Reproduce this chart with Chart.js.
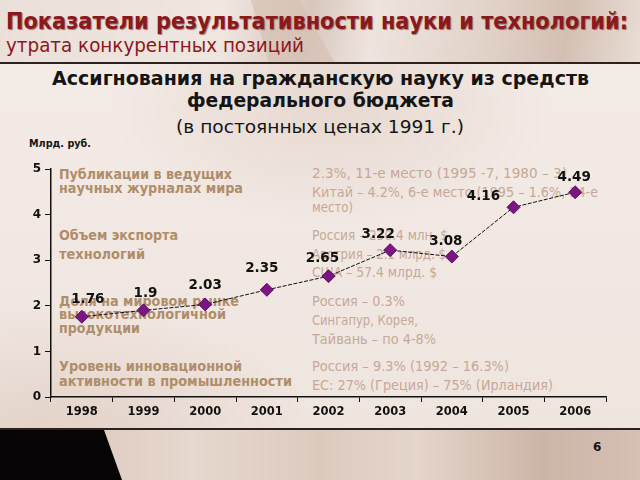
<!DOCTYPE html>
<html><head><meta charset="utf-8">
<script src="https://cdn.jsdelivr.net/npm/chart.js@4.4.1/dist/chart.umd.min.js"></script>
<style>
html,body{margin:0;padding:0;background:#fff;}
#slide{position:relative;width:640px;height:480px;overflow:hidden;background:#efe5df;font-family:"DejaVu Sans",sans-serif;}
.bg{position:absolute;}
.t{position:absolute;white-space:nowrap;transform-origin:0 50%;}
.lb{font-weight:bold;font-size:13.5px;color:#b08d6a;}
.rt{font-size:13.5px;color:#c6a897;}
canvas{position:absolute;left:0;top:0;}
</style></head>
<body>
<div id="slide">
  <div class="bg" style="left:0;top:0;width:640px;height:63px;background:linear-gradient(100deg,#ebe0d9 0%,#efe6e0 35%,#d8c6bb 48%,#eee4de 58%,#e2d3c9 75%,#d4c0b3 88%,#e9ddd5 100%);"></div>
  <div class="bg" style="left:215px;top:0;width:120px;height:63px;background:#d6c1b4;clip-path:polygon(30% 0,70% 0,100% 100%,45% 100%);opacity:.7"></div>
  <div class="bg" style="left:0;top:62px;width:640px;height:2px;background:#2b2220;"></div>
  <div class="bg" style="left:0;top:64px;width:640px;height:364px;background:radial-gradient(ellipse 260px 140px at 60px 380px,#e2d1c6 0%,rgba(226,209,198,0) 100%),radial-gradient(ellipse 220px 120px at 330px 40px,#e6d8cf 0%,rgba(230,216,207,0) 100%),linear-gradient(#f3ebe6,#efe5df);"></div>
  <div class="bg" style="left:0;top:428px;width:640px;height:2px;background:#2b2220;"></div>
  <div class="bg" style="left:0;top:430px;width:640px;height:50px;background:linear-gradient(90deg,#d6c1b4 0%,#e6d8ce 30%,#dccabe 50%,#e4d5cb 65%,#cdb5a7 85%,#d5c0b3 100%);"></div>
  <div class="bg" style="left:0;top:430px;width:125px;height:50px;background:#060404;clip-path:polygon(0 0,104px 0,122px 100%,0 100%);"></div>

  <div class="t" data-x="6" data-y="21" data-w="622" style="font-size:23px;line-height:28px;font-weight:bold;color:#8b181c;text-shadow:1px 1px 1px rgba(40,0,0,.45);">Показатели результативности науки и технологий:</div>
  <div class="t" data-x="6" data-y="45" data-w="298" style="font-size:20px;line-height:24px;color:#8b181c;">утрата конкурентных позиций</div>

  <div class="t" data-cx="320" data-y="79" data-w="537" style="font-size:19.5px;line-height:24px;font-weight:bold;color:#151515;">Ассигнования на гражданскую науку из средств</div>
  <div class="t" data-cx="320" data-y="101" data-w="267" style="font-size:19.5px;line-height:24px;font-weight:bold;color:#151515;">федерального бюджета</div>
  <div class="t" data-cx="320" data-y="127" data-w="288" style="font-size:18.5px;line-height:22px;color:#151515;">(в постоянных ценах 1991 г.)</div>
  <div class="t" data-x="29" data-y="144" data-w="62" style="font-size:11px;line-height:14px;font-weight:bold;color:#151515;">Млрд. руб.</div>

  <div class="t lb" data-x="59" data-y="174" data-w="173">Публикации в ведущих</div>
  <div class="t lb" data-x="59" data-y="188" data-w="184">научных журналах мира</div>
  <div class="t lb" data-x="59" data-y="235" data-w="119">Объем экспорта</div>
  <div class="t lb" data-x="59" data-y="254" data-w="86">технологий</div>
  <div class="t lb" data-x="59" data-y="301" data-w="180">Доля на мировом рынке</div>
  <div class="t lb" data-x="59" data-y="314" data-w="167">высокотехнологичной</div>
  <div class="t lb" data-x="59" data-y="328" data-w="81">продукции</div>
  <div class="t lb" data-x="59" data-y="366" data-w="183">Уровень инновационной</div>
  <div class="t lb" data-x="59" data-y="381" data-w="233">активности в промышленности</div>

  <div class="t rt" data-x="312" data-y="173" data-w="255">2.3%, 11-е место (1995 -7, 1980 – 3)</div>
  <div class="t rt" data-x="312" data-y="192" data-w="286">Китай – 4.2%, 6-е место (1995 – 1.6%, 14-е</div>
  <div class="t rt" data-x="312" data-y="207" data-w="41">место)</div>
  <div class="t rt" data-x="312" data-y="235" data-w="136">Россия – 230.4 млн. $</div>
  <div class="t rt" data-x="312" data-y="254" data-w="134">Австрия – 2.1 млрд. $</div>
  <div class="t rt" data-x="312" data-y="272" data-w="125">США – 57.4 млрд. $</div>
  <div class="t rt" data-x="312" data-y="301" data-w="93">Россия – 0.3%</div>
  <div class="t rt" data-x="312" data-y="320" data-w="106">Сингапур, Корея,</div>
  <div class="t rt" data-x="312" data-y="339" data-w="124">Тайвань – по 4-8%</div>
  <div class="t rt" data-x="312" data-y="366" data-w="197">Россия – 9.3% (1992 – 16.3%)</div>
  <div class="t rt" data-x="312" data-y="385" data-w="241">ЕС: 27% (Греция) – 75% (Ирландия)</div>

  <div class="t" data-x="593" data-y="447" style="font-size:12px;line-height:14px;font-weight:bold;color:#151515;">6</div>

  <canvas id="c" width="640" height="480"></canvas>
</div>
<script>
// ---- data ----
const years = ['1998','1999','2000','2001','2002','2003','2004','2005','2006'];
const funding = [1.76, 1.9, 2.03, 2.35, 2.65, 3.22, 3.08, 4.16, 4.49];
const valueLabels = ['1.76','1.9','2.03','2.35','2.65','3.22','3.08','4.16','4.49'];
const yTicks = [0, 1, 2, 3, 4, 5];

// label nudges (style only)
const labelDx = [6, 2, 0, -5, -6, -12, -6, -30, -1];
const labelDy = [-17, -17, -19, -21, -18, -16, -15, -11, -15];

// ---- fit slide text ----
document.querySelectorAll('.t').forEach(el => {
  const r = el.getBoundingClientRect();
  let w = r.width;
  if (el.dataset.w) { const tw = +el.dataset.w; el.style.transform = 'scaleX(' + (tw / w) + ')'; w = tw; }
  const x = el.dataset.cx ? (+el.dataset.cx - w / 2) : +el.dataset.x;
  el.style.left = x + 'px';
  el.style.top = (+el.dataset.y - r.height / 2) + 'px';
});

const labelPlugin = {
  id: 'valueLabels',
  afterDatasetsDraw(chart) {
    const ctx = chart.ctx;
    const meta = chart.getDatasetMeta(0);
    ctx.save();
    ctx.font = 'bold 13.5px "DejaVu Sans", sans-serif';
    ctx.fillStyle = '#111';
    ctx.textAlign = 'center';
    ctx.textBaseline = 'middle';
    meta.data.forEach((pt, i) => {
      ctx.fillText(valueLabels[i], pt.x + labelDx[i], pt.y + labelDy[i]);
    });
    ctx.restore();
  }
};

new Chart(document.getElementById('c'), {
  type: 'line',
  data: {
    labels: years,
    datasets: [{
      data: funding,
      borderColor: '#111',
      borderWidth: 1,
      borderDash: [4, 1.5],
      tension: 0,
      pointStyle: 'rectRot',
      pointRadius: 6.5,
      pointBackgroundColor: '#7b1582',
      pointBorderColor: '#5c0c63',
      pointBorderWidth: 1
    }]
  },
  options: {
    responsive: false,
    animation: false,
    events: [],
    layout: { padding: { top: 169, right: 34, bottom: 63, left: 0 } },
    plugins: { legend: { display: false }, tooltip: { enabled: false }, title: { display: false } },
    scales: {
      x: {
        offset: true,
        afterFit(s) { s.height = 20; },
        grid: { display: true, drawOnChartArea: false, drawTicks: true, tickLength: 5, color: '#111', lineWidth: 1, offset: true },
        border: { display: true, color: '#111', width: 1.5 },
        ticks: { color: '#111', font: { family: 'DejaVu Sans', size: 11.5, weight: 'bold' }, padding: 3, maxRotation: 0 }
      },
      y: {
        min: 0, max: 5,
        afterFit(s) { s.width = 51; },
        afterBuildTicks(s) { s.ticks = yTicks.map(v => ({ value: v })); },
        grid: { display: true, drawOnChartArea: false, drawTicks: true, tickLength: 6, color: '#111', lineWidth: 1 },
        border: { display: true, color: '#111', width: 1.5 },
        ticks: { color: '#111', font: { family: 'DejaVu Sans', size: 12, weight: 'bold' }, padding: 4 }
      }
    }
  },
  plugins: [labelPlugin]
});
</script>
</body></html>
